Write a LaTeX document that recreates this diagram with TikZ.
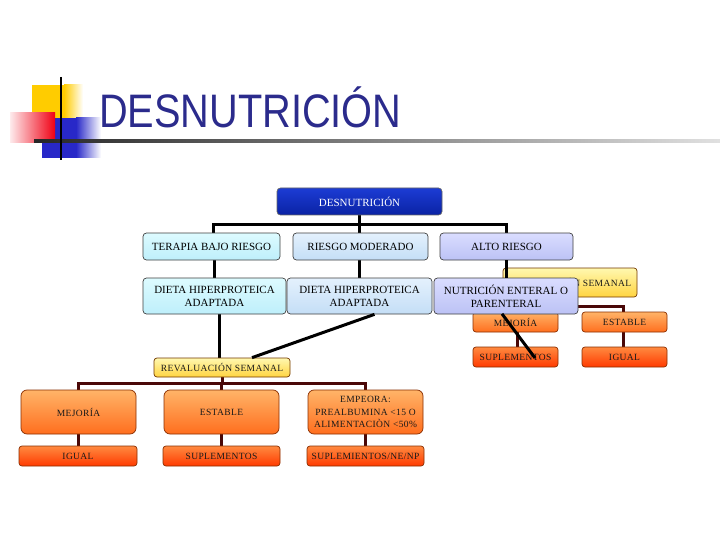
\documentclass[tikz,border=0pt]{standalone}
\usepackage{fontspec}
\setmainfont{Liberation Serif}
\newfontfamily\titlefont{Liberation Sans}
\newfontfamily\smallfont[LetterSpace=4]{Liberation Serif}
\usetikzlibrary{calc}
\definecolor{titleblue}{RGB}{43,43,140}
\definecolor{yellowsq}{RGB}{255,204,0}
\definecolor{bluesq}{RGB}{40,40,200}
\definecolor{redsq}{RGB}{240,0,20}
\definecolor{cyanA}{HTML}{DDFBFF}
\definecolor{cyanB}{HTML}{BEEFFB}
\definecolor{blueA}{HTML}{E4F1FD}
\definecolor{blueB}{HTML}{C4DEF6}
\definecolor{lavA}{HTML}{DADDFF}
\definecolor{lavB}{HTML}{BCC2F5}
\definecolor{navyA}{HTML}{1C3CD4}
\definecolor{navyB}{HTML}{0A22A4}
\definecolor{yelA}{HTML}{FFF8B0}
\definecolor{yelB}{HTML}{FFD440}
\definecolor{orA}{HTML}{FFB468}
\definecolor{orB}{HTML}{FF6E1E}
\definecolor{redA}{HTML}{FF8A40}
\definecolor{redB}{HTML}{FF3A00}
\definecolor{orborder}{HTML}{8A2E00}
\definecolor{brownline}{HTML}{4A0808}
\pgfdeclarelayer{paper}
\pgfdeclarelayer{bg}
\pgfsetlayers{paper,bg,main}
\tikzset{
  box/.style={draw=black!75, line width=0.7pt, rounded corners=3.5pt, align=center,
    inner sep=1pt, font=\fontsize{11}{13}\selectfont},
  cyanbox/.style={box, top color=cyanA, bottom color=cyanB},
  bluebox/.style={box, top color=blueA, bottom color=blueB},
  lavbox/.style={box, top color=lavA, bottom color=lavB},
  navybox/.style={box, top color=navyA, bottom color=navyB, text=white, draw=black!60},
  smallbox/.style={draw=orborder, line width=0.7pt, rounded corners=3pt, align=center,
    inner sep=1pt, text=black!90, font=\smallfont\fontsize{9.5}{12.5}\selectfont},
  yelbox/.style={smallbox, top color=yelA, bottom color=yelB, draw=black!55!orange},
  orbox/.style={smallbox, top color=orA, bottom color=orB},
  redbox/.style={smallbox, top color=redA, bottom color=redB},
  blackline/.style={line width=3pt, black},
  brownconn/.style={line width=3pt, brownline},
}
\begin{document}
\begin{tikzpicture}[x=1pt,y=-1pt]
\useasboundingbox (0,0) rectangle (720,540);
\begin{pgfonlayer}{paper}
\fill[white] (0,0) rectangle (720,540);
\end{pgfonlayer}

% title decoration
\fill[yellowsq] (32,85) rectangle (64,118);
\shade[left color=yellowsq, right color=white] (64,85) rectangle (83,118);
\fill[bluesq] (42,118) rectangle (76,158);
\shade[left color=bluesq, right color=white] (76,118) rectangle (101,158);
\shade[left color=redsq!8, right color=redsq] (10,113) rectangle (55,143);
\shade[left color=black!85, right color=black!12] (34,139.8) rectangle (720,142.6);
\draw[line width=2pt] (61,77) -- (61,160);
\node[anchor=base west, inner sep=0, text=titleblue,
  font=\titlefont\fontsize{47}{47}\selectfont] (title) at (99,128)
  {\scalebox{0.845}[1]{DESNUTRICIÓN}};

% top chart
\node[navybox, minimum width=165pt, minimum height=27pt] (desn) at (359.5,201.5) {DESNUTRICIÓN};
\node[cyanbox, minimum width=137pt, minimum height=27pt] (terapia) at (211.5,246.5) {TERAPIA BAJO RIESGO};
\node[bluebox, minimum width=135pt, minimum height=27pt] (riesgo) at (360.5,246.5) {RIESGO MODERADO};
\node[lavbox, minimum width=133pt, minimum height=27pt] (alto) at (506.5,246.5) {ALTO RIESGO};
\node[cyanbox, minimum width=143pt, minimum height=36pt] (dieta1) at (214.5,296) {DIETA HIPERPROTEICA\\ADAPTADA};
\node[bluebox, minimum width=145pt, minimum height=36pt] (dieta2) at (359.5,296) {DIETA HIPERPROTEICA\\ADAPTADA};

\coordinate (bar) at (359,225);
\begin{pgfonlayer}{bg}
  \draw[blackline] (desn.south) -- (desn.south |- riesgo.north);
  \draw[blackline] (terapia.north) ++(1.5,0) coordinate (tl) -- (tl |- bar) -- (alto.north |- bar) -- (alto.north);
  \draw[blackline] (dieta1.north |- terapia.south) -- (dieta1.north);
  \draw[blackline] (desn.south |- riesgo.south) -- (desn.south |- dieta2.north);
\end{pgfonlayer}

% right cluster
\node[yelbox, minimum width=134pt, minimum height=29pt] (revR) at (570,282.5) {REVALUACIÓN SEMANAL};
\node[orbox, minimum width=85pt, minimum height=20pt] (mejR) at (515.5,322) {MEJORÍA};
\node[orbox, minimum width=85pt, minimum height=20pt] (estR) at (624.5,322) {ESTABLE};
\node[redbox, minimum width=85pt, minimum height=20pt] (supR) at (515.5,357) {SUPLEMENTOS};
\node[redbox, minimum width=85pt, minimum height=20pt] (iguR) at (624.5,357) {IGUAL};
\coordinate (bar3) at (570,306);
\begin{pgfonlayer}{bg}
  \draw[brownconn] (revR.south) -- (revR.south |- bar3);
  \draw[brownconn] (mejR.north) ++(1.5,0) coordinate (ml) -- (ml |- bar3) -- ($(estR.north |- bar3)+(-1.5,0)$) -- ($(estR.north)+(-1.5,0)$);
  \draw[brownconn] ($(mejR.south)+(1.5,0)$) -- ($(supR.north)+(1.5,0)$);
  \draw[brownconn] ($(estR.south)+(-1.5,0)$) -- ($(iguR.north)+(-1.5,0)$);
\end{pgfonlayer}
\node[lavbox, minimum width=144pt, minimum height=36pt] (nutr) at (506,296) {NUTRICIÓN ENTERAL O\\PARENTERAL};
\draw[blackline] (alto.south) -- (alto.south |- nutr.north);
\draw[blackline] ($(nutr.south)+(-4,-0.5)$) -- ($(supR.center)+(19.5,1)$);

% left lower cluster
\node[yelbox, minimum width=136pt, minimum height=19pt] (rev) at (222,367.5) {REVALUACIÓN SEMANAL};
\node[orbox, minimum width=115pt, minimum height=44pt, rounded corners=6pt] (mej) at (78.5,412) {MEJORÍA};
\node[orbox, minimum width=115pt, minimum height=44pt, rounded corners=6pt] (est) at (221.5,412) {ESTABLE};
\node[orbox, minimum width=115pt, minimum height=44pt, rounded corners=6pt] (emp) at (365.5,412) {EMPEORA:\\PREALBUMINA <15 O\\ALIMENTACIÒN <50\%};
\node[redbox, minimum width=118pt, minimum height=20pt] (igual) at (78,456) {IGUAL};
\node[redbox, minimum width=117pt, minimum height=20pt] (sup) at (221.5,456) {SUPLEMENTOS};
\node[redbox, minimum width=117pt, minimum height=20pt] (supnp) at (365.5,456) {SUPLEMIENTOS/NE/NP};

\coordinate (bar2) at (222,383);
\begin{pgfonlayer}{bg}
  \draw[blackline] ($(dieta1.south)+(4.5,0)$) -- ($(rev.north)+(-3,0)$);
  \draw[brownconn] (rev.south) -- (rev.south |- bar2);
  \draw[brownconn] (mej.north) -- (mej.north |- bar2) -- (emp.north |- bar2) -- (emp.north);
  \draw[brownconn] (est.north |- bar2) -- (est.north);
  \draw[brownconn] (mej.south) -- (igual.north -| mej.south);
  \draw[brownconn] (est.south) -- (sup.north -| est.south);
  \draw[brownconn] (emp.south) -- (supnp.north -| emp.south);
\end{pgfonlayer}
\draw[blackline] ($(dieta2.south)+(15,0)$) -- ($(rev.north)+(30,0)$);
\end{tikzpicture}
\end{document}
